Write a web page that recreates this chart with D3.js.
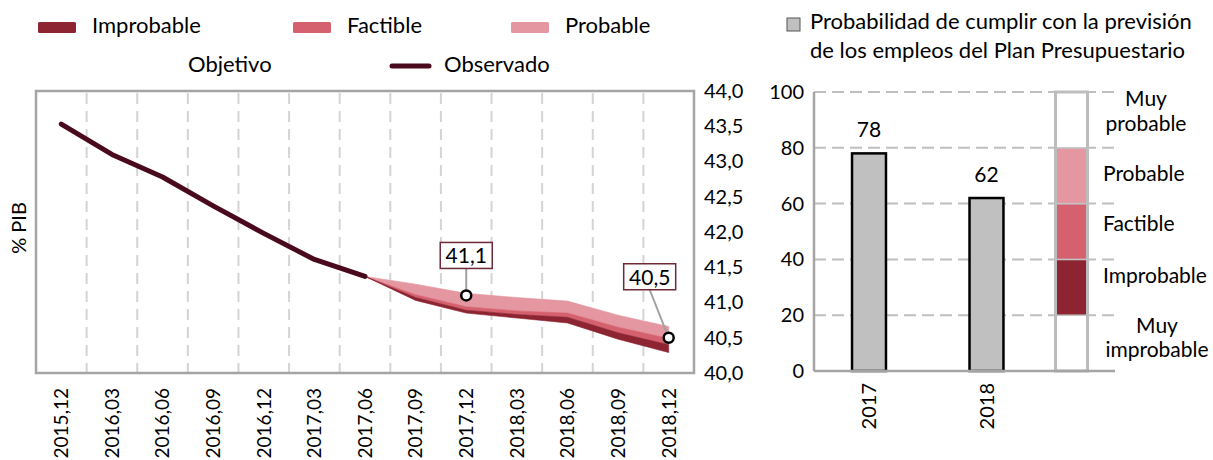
<!DOCTYPE html>
<html>
<head>
<meta charset="utf-8">
<script src="https://cdn.jsdelivr.net/npm/d3@7"></script>
<style>
  body { margin: 0; background: #fff; }
  svg { display: block; font-family: Lato, "Open Sans", sans-serif; }
</style>
</head>
<body>
<svg id="chart" width="1213" height="460"></svg>
<script>
// quarters on the left chart
var categories = ['2015,12', '2016,03', '2016,06', '2016,09', '2016,12', '2017,03', '2017,06',
  '2017,09', '2017,12', '2018,03', '2018,06', '2018,09', '2018,12'];
var observed = [43.53, 43.10, 42.78, 42.37, 41.98, 41.61, 41.37];

// fan chart, from 2017,06 to 2018,12
var fanCats = ['2017,06', '2017,09', '2017,12', '2018,03', '2018,06', '2018,09', '2018,12'];
var fanTop = [41.37, 41.26, 41.13, 41.07, 41.02, 40.82, 40.66];
var probableLow = [41.37, 41.11, 40.94, 40.88, 40.85, 40.65, 40.49];
var factibleLow = [41.37, 41.07, 40.89, 40.83, 40.79, 40.57, 40.40];
var improbableLow = [41.37, 41.03, 40.85, 40.78, 40.71, 40.48, 40.29];

// objetivo points
var objetivoCats = ['2017,12', '2018,12'];
var objetivoVals = [41.1, 40.5];

var yTicksLeft = [40, 40.5, 41, 41.5, 42, 42.5, 43, 43.5, 44];

// right chart
var years = ['2017', '2018'];
var probCumplir = [78, 62];
var yTicksRight = [0, 20, 40, 60, 80, 100];
var zoneNames = ['Muy improbable', 'Improbable', 'Factible', 'Probable', 'Muy probable'];
var zoneFrom = [0, 20, 40, 60, 80];
var zoneTo = [20, 40, 60, 80, 100];

var colors = {
  Improbable: '#8c2432',
  Factible: '#d5606e',
  Probable: '#e497a0',
  observed: '#4a0a1d'
};

var svg = d3.select('#chart');

// ---------- legend (left) ----------
var legend = svg.append('g').style('font-size', '22px');
var legItems = [
  { name: 'Improbable', x: 38 },
  { name: 'Factible', x: 293 },
  { name: 'Probable', x: 511 }
];
legItems.forEach(function(d) {
  legend.append('rect')
    .attr('x', d.x).attr('y', 22).attr('width', 38).attr('height', 11).attr('rx', 1.5)
    .attr('fill', colors[d.name]);
  legend.append('text').attr('x', d.x + 54).attr('y', 33).text(d.name);
});
legend.append('text').attr('x', 188).attr('y', 72).text('Objetivo');
legend.append('line')
  .attr('x1', 392).attr('x2', 429).attr('y1', 66).attr('y2', 66)
  .attr('stroke', colors.observed).attr('stroke-width', 5).attr('stroke-linecap', 'round');
legend.append('text').attr('x', 444).attr('y', 72).text('Observado');

// ---------- left chart ----------
var left = { x0: 36, x1: 694, y0: 91, y1: 373 };

var x = d3.scaleBand().domain(categories).range([left.x0, left.x1]).padding(0);
var cx = function(c) { return x(c) + x.bandwidth() / 2; };
var y = d3.scaleLinear().domain([40, 44]).range([left.y1, left.y0]);

// vertical dashed grid between categories
svg.append('g').selectAll('line')
  .data(categories.slice(1))
  .join('line')
  .attr('x1', function(d) { return x(d); })
  .attr('x2', function(d) { return x(d); })
  .attr('y1', left.y0 + 2).attr('y2', left.y1)
  .attr('stroke', '#d4d4d4').attr('stroke-width', 2)
  .attr('stroke-dasharray', '11,7');

// fan bands
var bands = [
  { name: 'Probable', hi: fanTop, lo: probableLow },
  { name: 'Factible', hi: probableLow, lo: factibleLow },
  { name: 'Improbable', hi: factibleLow, lo: improbableLow }
];
var area = d3.area()
  .x(function(d) { return cx(d.c); })
  .y0(function(d) { return y(d.lo); })
  .y1(function(d) { return y(d.hi); });
bands.forEach(function(b) {
  var pts = fanCats.map(function(c, i) { return { c: c, hi: b.hi[i], lo: b.lo[i] }; });
  svg.append('path').datum(pts)
    .attr('d', area)
    .attr('fill', colors[b.name])
    .attr('stroke', colors[b.name]).attr('stroke-width', 0.6);
});

// observed line
var line = d3.line()
  .x(function(d, i) { return cx(categories[i]); })
  .y(function(d) { return y(d); });
svg.append('path').datum(observed)
  .attr('d', line)
  .attr('fill', 'none')
  .attr('stroke', colors.observed).attr('stroke-width', 5)
  .attr('stroke-linejoin', 'round').attr('stroke-linecap', 'round');

// border
svg.append('rect')
  .attr('x', left.x0).attr('y', left.y0)
  .attr('width', left.x1 - left.x0).attr('height', left.y1 - left.y0)
  .attr('fill', 'none').attr('stroke', '#a5a5a5').attr('stroke-width', 2.5);

// right y axis of left chart
var yAxisL = d3.axisRight(y).tickValues(yTicksLeft).tickSize(0).tickPadding(10)
  .tickFormat(function(d) { return d3.format('.1f')(d).replace('.', ','); });
svg.append('g')
  .attr('transform', 'translate(' + left.x1 + ',0)')
  .call(yAxisL)
  .call(function(g) { g.select('.domain').remove(); })
  .selectAll('text').style('font-size', '20px').attr('fill', '#000')
  .attr('font-family', 'Lato, sans-serif');

// x axis labels, rotated
var xAxisL = d3.axisBottom(x).tickSize(0).tickPadding(0);
svg.append('g')
  .attr('transform', 'translate(0,' + left.y1 + ')')
  .call(xAxisL)
  .call(function(g) { g.select('.domain').remove(); })
  .selectAll('text')
  .attr('font-family', 'Lato, sans-serif')
  .style('font-size', '19px').attr('fill', '#000')
  .attr('text-anchor', 'end')
  .attr('transform', 'rotate(-90)')
  .attr('x', -15).attr('y', 0).attr('dy', '0.36em');

// % PIB
svg.append('text')
  .attr('transform', 'translate(26,228) rotate(-90)')
  .attr('text-anchor', 'middle')
  .style('font-size', '20px')
  .text('% PIB');

// objetivo markers with labels
var labelOffsets = [{ dx: 0, dy: -40 }, { dx: -19, dy: -61 }];
objetivoCats.forEach(function(c, i) {
  var px = cx(c), py = y(objetivoVals[i]);
  var bx = px + labelOffsets[i].dx, by = py + labelOffsets[i].dy;
  svg.append('line')
    .attr('x1', bx).attr('y1', by + 13).attr('x2', px).attr('y2', py)
    .attr('stroke', '#a0a0a0').attr('stroke-width', 2);
  svg.append('rect')
    .attr('x', bx - 26).attr('y', by - 13).attr('width', 52).attr('height', 26)
    .attr('fill', '#fff').attr('stroke', '#6e2a36').attr('stroke-width', 1.5);
  svg.append('text')
    .attr('x', bx).attr('y', by + 8)
    .attr('text-anchor', 'middle').style('font-size', '21px')
    .text(d3.format('.1f')(objetivoVals[i]).replace('.', ','));
  svg.append('circle')
    .attr('cx', px).attr('cy', py).attr('r', 5)
    .attr('fill', '#fff').attr('stroke', '#000').attr('stroke-width', 2.5);
});

// ---------- right chart ----------
var right = { x0: 814, x1: 1115, y0: 92, y1: 371 };
var xr = d3.scaleBand().domain(years).range([768.5, 1087]).padding(0.711);
var yr = d3.scaleLinear().domain([0, 100]).range([right.y1, right.y0]);

// horizontal dashed grid
svg.append('g').selectAll('line')
  .data(yTicksRight.slice(1))
  .join('line')
  .attr('x1', right.x0).attr('x2', 1117)
  .attr('y1', function(d) { return yr(d); })
  .attr('y2', function(d) { return yr(d); })
  .attr('stroke', '#bfbfbf').attr('stroke-width', 2)
  .attr('stroke-dasharray', '12,6');

// bars
svg.append('g').selectAll('rect')
  .data(years)
  .join('rect')
  .attr('x', function(d) { return xr(d); })
  .attr('width', xr.bandwidth())
  .attr('y', function(d, i) { return yr(probCumplir[i]); })
  .attr('height', function(d, i) { return yr(0) - yr(probCumplir[i]); })
  .attr('fill', '#c0c0c0').attr('stroke', '#000').attr('stroke-width', 2.5);

svg.append('g').selectAll('text')
  .data(years)
  .join('text')
  .attr('x', function(d) { return xr(d) + xr.bandwidth() / 2; })
  .attr('y', function(d, i) { return yr(probCumplir[i]) - 16; })
  .attr('text-anchor', 'middle').style('font-size', '21px')
  .text(function(d, i) { return probCumplir[i]; });

// probability scale column
var colX = xr('2018') + 86, colW = 32;
svg.append('g').selectAll('rect')
  .data(zoneNames)
  .join('rect')
  .attr('x', colX).attr('width', colW)
  .attr('y', function(d, i) { return yr(zoneTo[i]); })
  .attr('height', function(d, i) { return yr(zoneFrom[i]) - yr(zoneTo[i]); })
  .attr('fill', function(d) { return colors[d] || '#fff'; })
  .attr('stroke', '#c4c4c4').attr('stroke-width', 1.5);
svg.append('rect')
  .attr('x', colX).attr('width', colW)
  .attr('y', yr(100)).attr('height', yr(0) - yr(100))
  .attr('fill', 'none').attr('stroke', '#bdbdbd').attr('stroke-width', 3);

// axes lines
svg.append('line')
  .attr('x1', right.x0).attr('x2', right.x0).attr('y1', right.y0).attr('y2', right.y1)
  .attr('stroke', '#a5a5a5').attr('stroke-width', 2.5);
svg.append('line')
  .attr('x1', right.x0).attr('x2', right.x1).attr('y1', right.y1).attr('y2', right.y1)
  .attr('stroke', '#a5a5a5').attr('stroke-width', 2.5);

var yAxisR = d3.axisLeft(yr).tickValues(yTicksRight).tickSize(0).tickPadding(10);
svg.append('g')
  .attr('transform', 'translate(' + right.x0 + ',0)')
  .call(yAxisR)
  .call(function(g) { g.select('.domain').remove(); })
  .selectAll('text').style('font-size', '20px').attr('fill', '#000')
  .attr('font-family', 'Lato, sans-serif');

var xAxisR = d3.axisBottom(xr).tickSize(0).tickPadding(0);
svg.append('g')
  .attr('transform', 'translate(0,' + right.y1 + ')')
  .call(xAxisR)
  .call(function(g) { g.select('.domain').remove(); })
  .selectAll('text')
  .attr('font-family', 'Lato, sans-serif')
  .style('font-size', '20px').attr('fill', '#000')
  .attr('text-anchor', 'end')
  .attr('transform', 'rotate(-90)')
  .attr('x', -12).attr('y', 0).attr('dy', '0.36em');

// zone labels beside the column
var zoneLabels = [
  { lines: ['Muy', 'improbable'], anchor: 'middle', x: 1157, y: [333, 357] },
  { lines: ['Improbable'], anchor: 'start', x: 1103, y: [283] },
  { lines: ['Factible'], anchor: 'start', x: 1103, y: [231] },
  { lines: ['Probable'], anchor: 'start', x: 1103, y: [181] },
  { lines: ['Muy', 'probable'], anchor: 'middle', x: 1146, y: [106, 131] }
];
zoneLabels.forEach(function(z) {
  z.lines.forEach(function(t, j) {
    svg.append('text')
      .attr('x', z.x).attr('y', z.y[j])
      .attr('text-anchor', z.anchor).style('font-size', '21px')
      .text(t);
  });
});

// right legend
svg.append('rect')
  .attr('x', 787).attr('y', 18).attr('width', 13).attr('height', 13)
  .attr('fill', '#c0c0c0').attr('stroke', '#555').attr('stroke-width', 1);
svg.append('text').attr('x', 810).attr('y', 29).style('font-size', '22px')
  .text('Probabilidad de cumplir con la previsión');
svg.append('text').attr('x', 810).attr('y', 58).style('font-size', '22px')
  .text('de los empleos del Plan Presupuestario');
</script>
</body>
</html>
